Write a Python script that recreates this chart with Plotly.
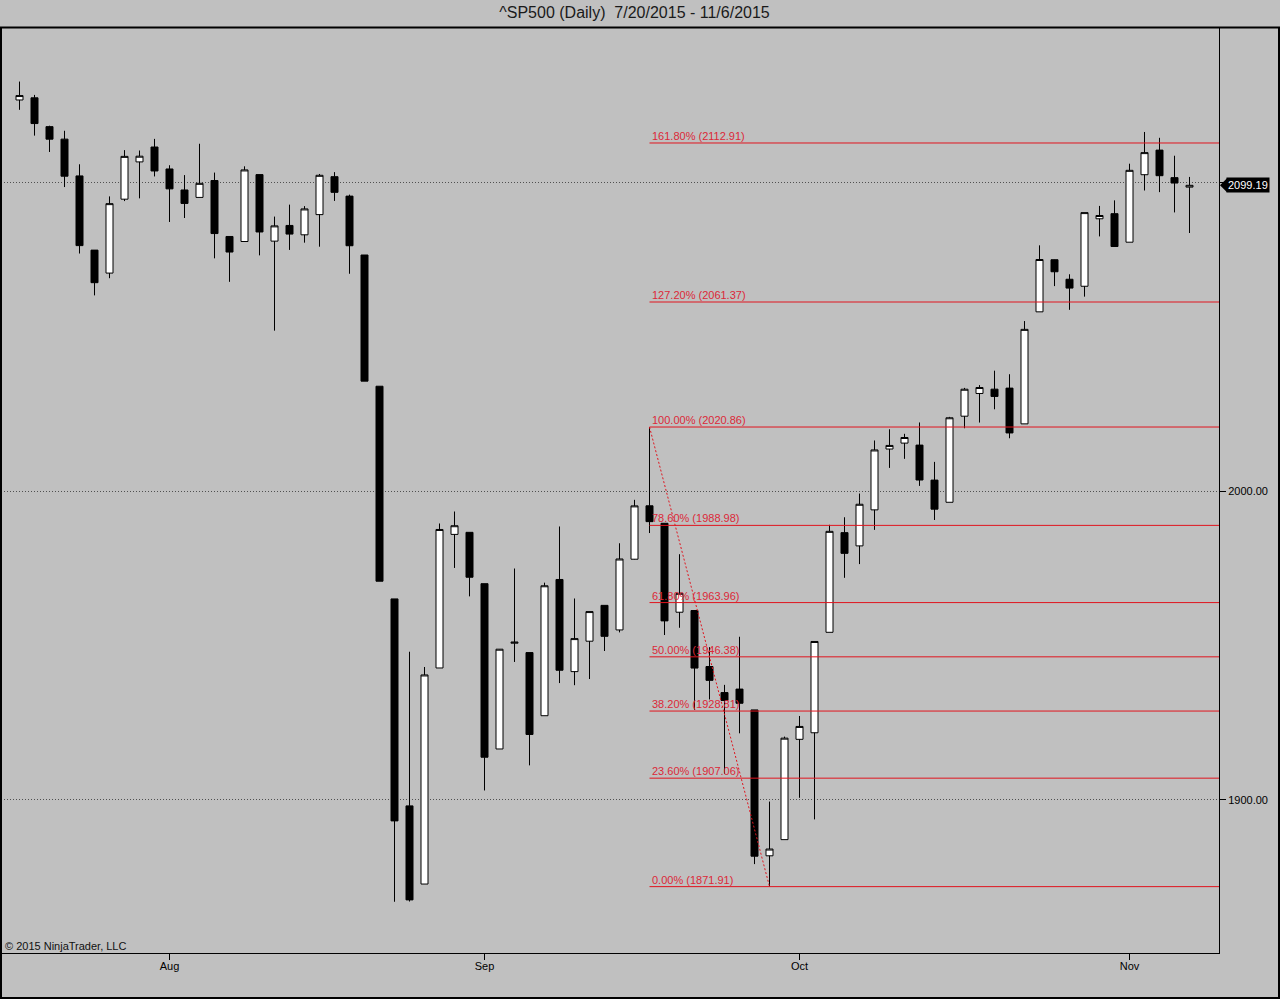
import plotly.graph_objects as go

# ---------------- data ----------------
dates = ["7/20/2015", "7/21/2015", "7/22/2015", "7/23/2015", "7/24/2015", "7/27/2015", "7/28/2015",
         "7/29/2015", "7/30/2015", "7/31/2015", "8/3/2015", "8/4/2015", "8/5/2015", "8/6/2015",
         "8/7/2015", "8/10/2015", "8/11/2015", "8/12/2015", "8/13/2015", "8/14/2015", "8/17/2015",
         "8/18/2015", "8/19/2015", "8/20/2015", "8/21/2015", "8/24/2015", "8/25/2015", "8/26/2015",
         "8/27/2015", "8/28/2015", "8/31/2015", "9/1/2015", "9/2/2015", "9/3/2015", "9/4/2015",
         "9/8/2015", "9/9/2015", "9/10/2015", "9/11/2015", "9/14/2015", "9/15/2015", "9/16/2015",
         "9/17/2015", "9/18/2015", "9/21/2015", "9/22/2015", "9/23/2015", "9/24/2015", "9/25/2015",
         "9/28/2015", "9/29/2015", "9/30/2015", "10/1/2015", "10/2/2015", "10/5/2015", "10/6/2015",
         "10/7/2015", "10/8/2015", "10/9/2015", "10/12/2015", "10/13/2015", "10/14/2015",
         "10/15/2015", "10/16/2015", "10/19/2015", "10/20/2015", "10/21/2015", "10/22/2015",
         "10/23/2015", "10/26/2015", "10/27/2015", "10/28/2015", "10/29/2015", "10/30/2015",
         "11/2/2015", "11/3/2015", "11/4/2015", "11/5/2015", "11/6/2015"]

opens = [2126.85, 2127.55, 2118.21, 2114.16, 2102.24, 2078.19, 2070.75, 2094.70, 2106.78, 2111.60,
         2104.49, 2097.68, 2095.27, 2100.75, 2082.61, 2080.98, 2102.66, 2081.10, 2086.19, 2083.15,
         2089.70, 2101.99, 2095.69, 2076.61, 2034.08, 1965.15, 1898.08, 1872.75, 1942.77, 1986.06,
         1986.73, 1970.09, 1916.52, 1950.79, 1947.76, 1927.30, 1971.45, 1941.59, 1951.45, 1963.06,
         1955.10, 1978.02, 1995.33, 1989.66, 1960.84, 1961.39, 1943.24, 1934.80, 1935.93, 1929.18,
         1881.90, 1887.14, 1919.65, 1921.77, 1954.33, 1986.63, 1982.34, 1994.01, 2013.73, 2015.65,
         2015.00, 2003.66, 1996.47, 2024.37, 2031.73, 2033.13, 2033.47, 2021.88, 2058.19, 2075.08,
         2068.75, 2066.48, 2088.35, 2090.00, 2080.76, 2102.63, 2110.60, 2101.68, 2098.60]

highs = [2132.82, 2128.49, 2118.51, 2116.87, 2106.01, 2078.19, 2095.60, 2110.60, 2110.48, 2114.24,
         2105.70, 2102.51, 2112.66, 2103.32, 2082.61, 2105.35, 2102.66, 2089.06, 2092.93, 2092.45,
         2102.87, 2103.47, 2096.17, 2076.61, 2034.08, 1965.15, 1948.04, 1943.09, 1989.60, 1993.48,
         1986.73, 1970.09, 1948.91, 1975.01, 1947.76, 1970.42, 1988.63, 1965.29, 1961.05, 1963.06,
         1983.19, 1997.26, 2020.86, 1989.66, 1979.64, 1961.39, 1949.52, 1937.30, 1952.89, 1929.18,
         1899.48, 1920.53, 1927.21, 1951.36, 1989.17, 1991.62, 1999.31, 2016.50, 2020.13, 2018.66,
         2022.34, 2009.56, 2024.15, 2033.54, 2034.45, 2039.12, 2037.97, 2055.20, 2079.74, 2075.14,
         2070.37, 2090.35, 2092.52, 2094.32, 2106.20, 2116.48, 2114.59, 2108.78, 2101.91]

lows = [2123.66, 2115.30, 2110.00, 2098.63, 2077.09, 2063.52, 2069.09, 2094.08, 2094.97, 2102.07,
        2087.31, 2088.60, 2095.27, 2075.53, 2067.91, 2080.98, 2076.49, 2052.09, 2078.26, 2080.61,
        2079.30, 2094.14, 2070.53, 2035.73, 1970.89, 1867.01, 1867.08, 1872.75, 1942.77, 1975.19,
        1965.98, 1903.07, 1916.52, 1944.72, 1911.21, 1927.30, 1937.88, 1937.19, 1939.19, 1948.27,
        1954.30, 1977.93, 1986.50, 1953.45, 1955.80, 1929.22, 1932.57, 1908.54, 1921.60, 1879.21,
        1871.91, 1887.14, 1900.70, 1893.70, 1954.33, 1971.99, 1976.44, 1987.53, 2007.61, 2010.55,
        2001.78, 1990.73, 1996.47, 2020.46, 2022.31, 2026.61, 2017.22, 2021.88, 2058.19, 2066.53,
        2058.84, 2063.11, 2082.63, 2079.34, 2080.76, 2097.51, 2096.98, 2090.41, 2083.74]

closes = [2128.28, 2119.21, 2114.15, 2102.15, 2079.65, 2067.64, 2093.25, 2108.57, 2108.63, 2103.84,
          2098.04, 2093.32, 2099.84, 2083.56, 2077.57, 2104.18, 2084.07, 2086.05, 2083.39, 2091.54,
          2102.44, 2096.92, 2079.61, 2035.73, 1970.89, 1893.21, 1867.61, 1940.51, 1987.66, 1988.87,
          1972.18, 1913.85, 1948.86, 1951.13, 1921.22, 1969.41, 1942.04, 1952.29, 1961.05, 1953.03,
          1978.09, 1995.31, 1990.20, 1958.03, 1966.97, 1942.74, 1938.76, 1932.24, 1931.34, 1881.77,
          1884.09, 1920.03, 1923.82, 1951.36, 1987.05, 1979.92, 1995.83, 2013.43, 2014.89, 2017.46,
          2003.69, 1994.24, 2023.86, 2033.11, 2033.66, 2030.77, 2018.94, 2052.51, 2075.15, 2071.18,
          2065.89, 2090.35, 2089.41, 2079.36, 2104.05, 2109.79, 2102.31, 2099.93, 2099.19]

month_names = ["Aug", "Sep", "Oct", "Nov"]
y_ticks = [1900, 2000, 2100]

fib_ratios = [0.0, 0.236, 0.382, 0.5, 0.618, 0.786, 1.0, 1.272, 1.618]
fib_high_date = "9/17/2015"
fib_low_date = "9/29/2015"

title_text = "^SP500 (Daily)  7/20/2015 - 11/6/2015"
copyright_text = "\u00a9 2015 NinjaTrader, LLC"

# ---------------- styles ----------------
BG = "#C0C0C0"
FIB_LINE = "#E0141E"
FIB_TEXT = "#DC2838"
FONT = "Liberation Sans, Arial, sans-serif"

W, H = 1280, 999
ML, MR, MT, MB = 1, 61, 27, 46
PW = W - ML - MR
PH = H - MT - MB

X0 = -1.2 - 0.5 / 15.0
X_RANGE = [X0, X0 + PW / 15.0]
Y_RANGE = [1850.4, 2150.5]

xs = list(range(len(dates)))

# month ticks: first trading day of each month after the first
tick_pos, tick_txt = [], []
prev_m = dates[0].split("/")[0]
for i, d in enumerate(dates):
    m = d.split("/")[0]
    if m != prev_m:
        tick_pos.append(i)
        tick_txt.append(month_names[len(tick_txt)])
    prev_m = m

fig = go.Figure()
fig.add_trace(go.Candlestick(
    x=xs, open=opens, high=highs, low=lows, close=closes,
    increasing=dict(line=dict(color="black", width=1), fillcolor="white"),
    decreasing=dict(line=dict(color="black", width=1), fillcolor="black"),
    whiskerwidth=0, hoverinfo="skip", showlegend=False,
))

# Fibonacci retracement
hi_i = dates.index(fib_high_date)
lo_i = dates.index(fib_low_date)
swing_hi = highs[hi_i]
swing_lo = lows[lo_i]
shapes = []
annotations = []
for r in fib_ratios:
    lvl = swing_lo + r * (swing_hi - swing_lo)
    shapes.append(dict(type="line", xref="x", yref="y", x0=hi_i, x1=X_RANGE[1], y0=lvl, y1=lvl,
                       line=dict(color=FIB_LINE, width=1), layer="above"))
    annotations.append(dict(x=hi_i, y=lvl, xref="x", yref="y", xanchor="left", yanchor="bottom",
                            text=f"{r * 100:.2f}% ({lvl:.2f})", showarrow=False, xshift=0, yshift=-1,
                            font=dict(family=FONT, size=11, color=FIB_TEXT)))
shapes.append(dict(type="line", xref="x", yref="y", x0=hi_i, y0=swing_hi, x1=lo_i, y1=swing_lo,
                   line=dict(color=FIB_LINE, width=1, dash="2px,2px"), layer="above"))


def px_x(p):
    return (p - ML) / PW


def px_y(p):
    return 1 - (p - MT) / PH


# frame
shapes.append(dict(type="rect", xref="paper", yref="paper", x0=px_x(1), x1=px_x(1279), y0=px_y(998),
                   y1=px_y(27.5), line=dict(color="black", width=2), fillcolor="rgba(0,0,0,0)", layer="above"))

# last price marker
last = closes[-1]
shapes.append(dict(type="path", xref="paper", yref="y", xsizemode="pixel", ysizemode="pixel",
                   xanchor=1, yanchor=last, path="M 1,0 L 8,7 L 8,-7 Z",
                   fillcolor="black", line=dict(color="black", width=0), layer="above"))
annotations.append(dict(x=1, y=last, xref="paper", yref="y", xanchor="left", yanchor="middle",
                        xshift=7, text=f"{last:.2f}", showarrow=False, bgcolor="black", borderpad=1,
                        font=dict(family=FONT, size=11, color="white")))

annotations.append(dict(x=px_x(3), y=px_y(946), xref="paper", yref="paper", xanchor="left",
                        yanchor="middle", text=copyright_text, showarrow=False,
                        font=dict(family=FONT, size=11, color="#111111")))

fig.update_layout(
    width=W, height=H,
    margin=dict(l=ML, r=MR, t=MT, b=MB, pad=0),
    paper_bgcolor=BG, plot_bgcolor=BG,
    boxgap=1 / 3,
    title=dict(text=title_text, x=px_x(634.5), xref="paper", xanchor="center",
               y=1 - 12.5 / H, yref="container", yanchor="middle",
               font=dict(family=FONT, size=16, color="#1a1a1a")),
    font=dict(family=FONT, size=11, color="black"),
    shapes=shapes, annotations=annotations,
    showlegend=False, hovermode=False,
    xaxis=dict(range=X_RANGE, rangeslider=dict(visible=False), showgrid=False, zeroline=False,
               tickmode="array", tickvals=tick_pos, ticktext=tick_txt, ticks="outside",
               ticklen=6, tickcolor="black", showline=True, linecolor="black", linewidth=1,
               ticklabelstandoff=-3,
               tickfont=dict(family=FONT, size=11, color="black"), fixedrange=True),
    yaxis=dict(range=Y_RANGE, side="right", showgrid=True, gridcolor="#505050", griddash="1px,2px",
               gridwidth=1, zeroline=False, tickmode="array", tickvals=y_ticks,
               ticktext=[f"{v:.2f}" if abs(v - last) > 5 else "" for v in y_ticks],
               ticks="outside", ticklen=6, tickcolor="black", showline=True, linecolor="black",
               linewidth=1, tickfont=dict(family=FONT, size=11, color="black"), fixedrange=True),
)

fig.write_html("out.html", config={"displayModeBar": False, "staticPlot": True},
               post_script="document.body.style.margin='0px';document.body.style.overflow='hidden';")
